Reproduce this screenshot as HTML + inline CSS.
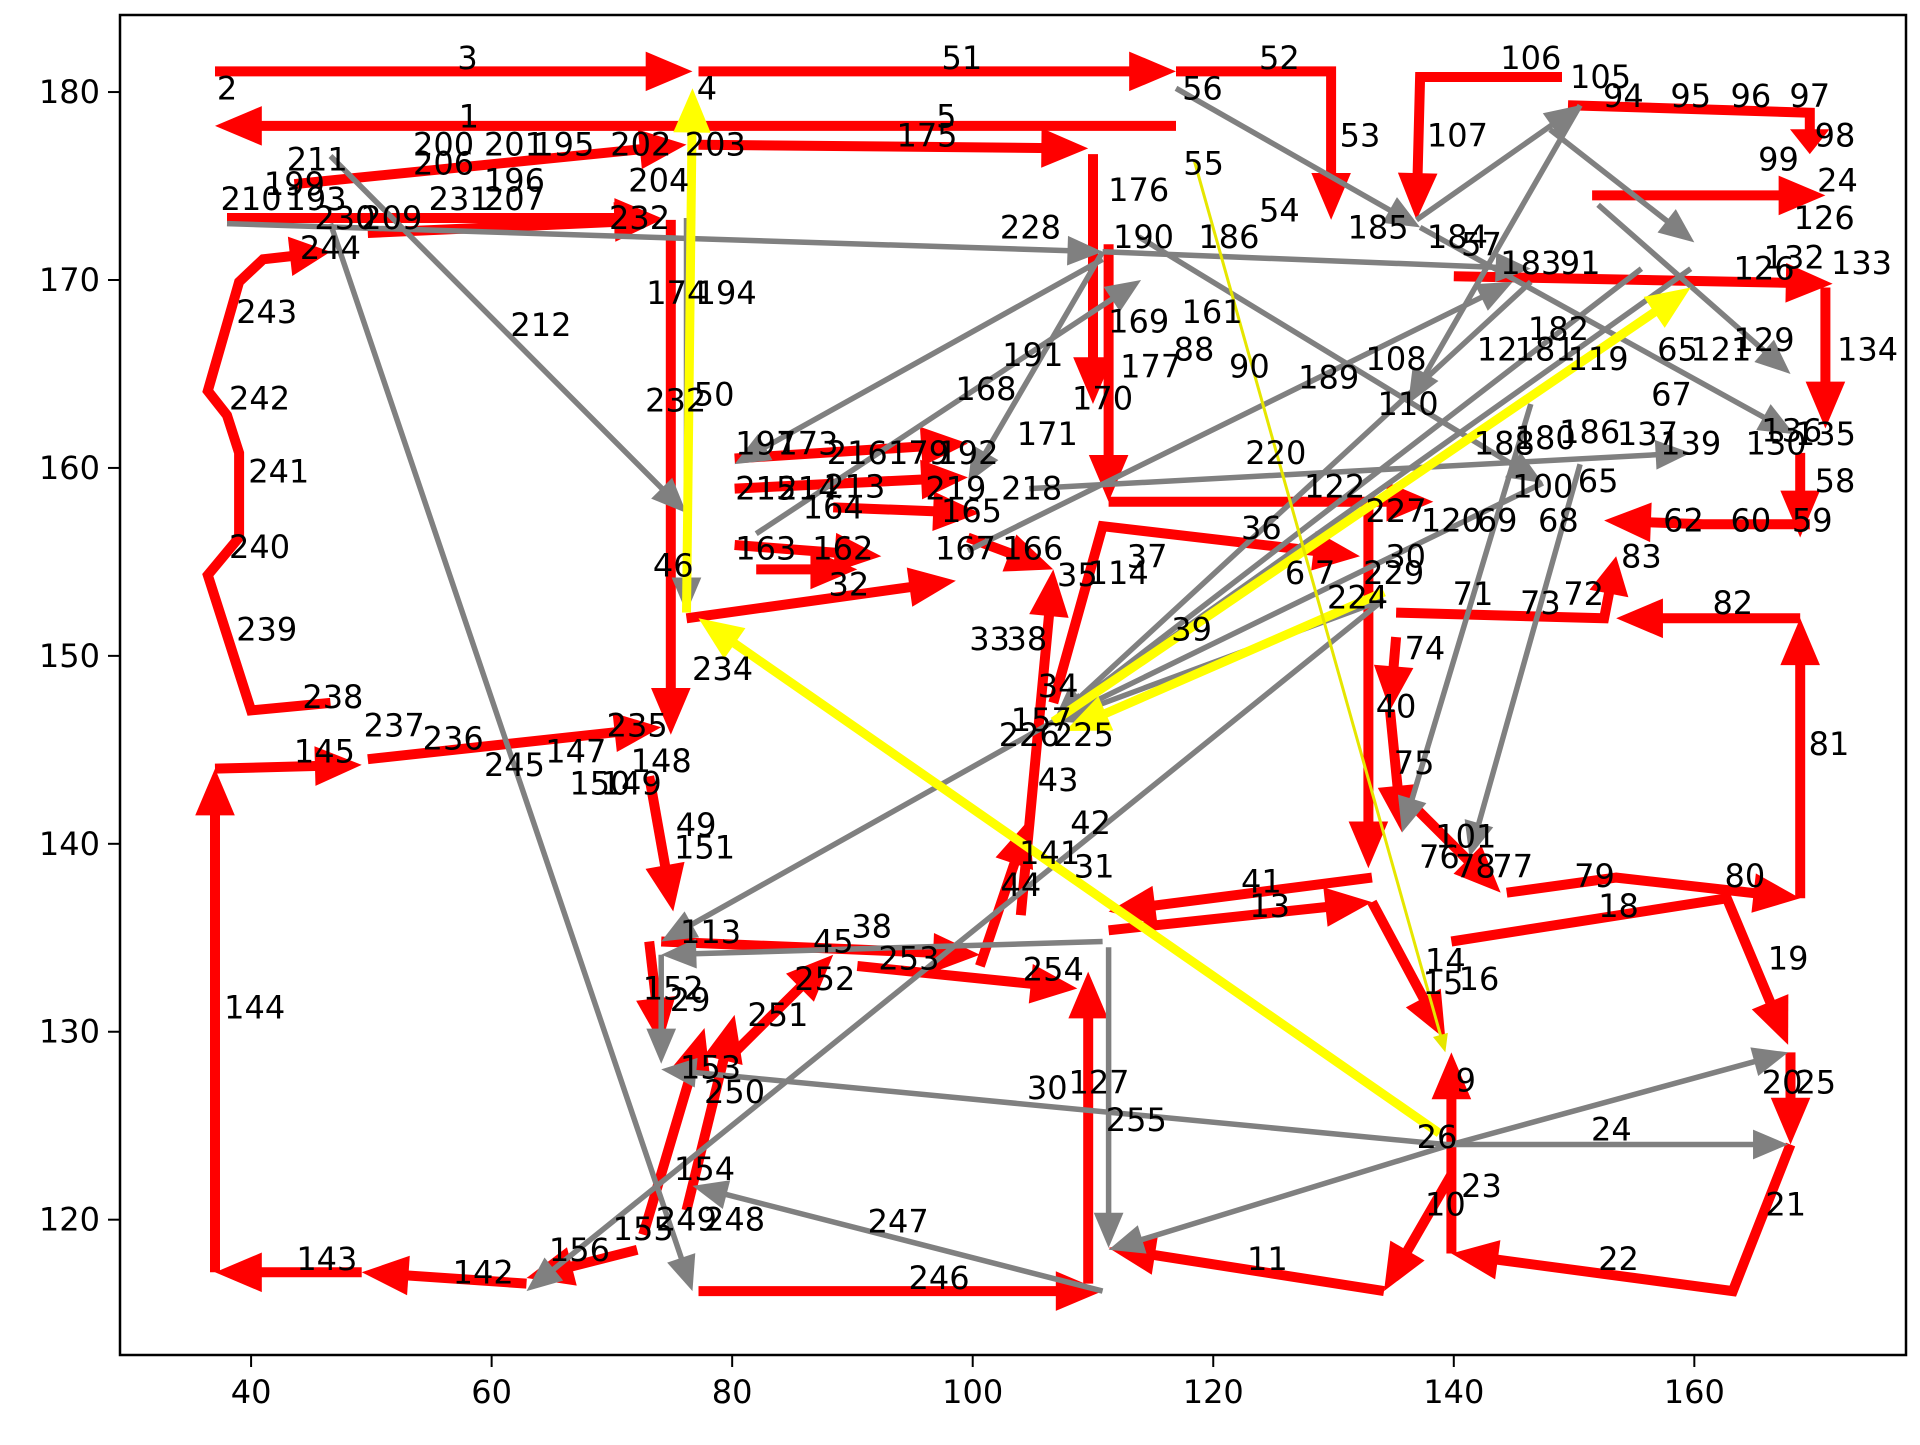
<!DOCTYPE html>
<html><head><meta charset="utf-8"><style>
html,body{margin:0;padding:0;background:#fff}
svg text{font-family:"DejaVu Sans","Liberation Sans",sans-serif}
</style></head><body>
<svg id="chart" width="1920" height="1440" viewBox="0 0 1920 1440" xmlns="http://www.w3.org/2000/svg">
<rect x="0" y="0" width="1920" height="1440" fill="#fff"/>
<g id="plot"></g>
</svg>
<script>
const xTicks=[40,60,80,100,120,140,160];
const yTicks=[120,130,140,150,160,170,180];
const redPaths=[
[[37.0,181.1],[76.7,181.1]],[[77.2,181.1],[116.9,181.1]],[[116.9,181.1],[129.8,181.1],[129.8,173.2]],
[[116.9,178.2],[37.0,178.2]],[[77.2,177.2],[109.6,177.0]],[[110.0,176.7],[110.0,163.4]],[[111.3,171.9],[111.3,158.2]],
[[149.0,180.8],[137.2,180.8],[136.9,173.2]],[[149.5,179.3],[169.6,178.9],[169.6,176.7]],
[[151.5,174.5],[170.9,174.5]],[[140,170.2],[171.5,169.8]],[[170.9,169.6],[170.9,162.1]],[[168.8,160.8],[168.8,156.3]],
[[169.6,157.0],[160.7,157.0],[152.5,157.2]],[[168.8,137.1],[168.8,152.0]],[[168.8,152.0],[153.5,152.0]],
[[144.4,137.4],[153.5,138.2],[168.8,137.1]],[[139.8,134.8],[162.7,137.1],[167.8,129.3]],[[168.0,128.9],[168.0,124.0]],
[[168.0,124.0],[163.2,116.2],[139.8,118.2]],[[139.8,118.2],[139.8,128.9]],[[139.8,122.4],[134.2,116.2]],
[[134.2,116.2],[111.3,118.5]],[[109.6,116.6],[109.6,133.2]],[[77.2,116.2],[110.8,116.2]],
[[132.9,158.2],[132.9,138.7]],[[133.2,138.2],[111.3,136.4]],[[111.3,135.4],[133.2,136.9]],[[133.2,136.9],[139.3,129.6]],
[[135.2,152.3],[152.5,152.0],[153.5,155.3]],[[135.2,151.0],[134.7,147.1]],[[134.7,147.1],[135.7,140.6]],[[136.2,142.3],[143.9,137.4]],
[[37.0,117.2],[37.0,144.0]],[[37.0,144.0],[49.2,144.2]],[[49.2,117.2],[37.0,117.2]],[[62.9,116.6],[49.2,117.2]],[[72.1,118.4],[62.9,116.9]],
[[49.7,144.5],[74.1,146.2]],
[[46.6,147.5],[40.0,147.1],[36.4,154.3],[39.0,156.3],[39.0,160.8],[38.0,162.8],[36.4,164.1],[39.0,169.9],[41.0,171.1],[46.6,171.5]],
[[38.0,173.3],[74.1,173.3]],[[43.6,175.1],[76.2,177.2]],[[49.7,172.5],[74.1,173.2]],
[[74.9,173.2],[74.9,145.8]],[[76.2,152.0],[98.6,154.0]],[[73.1,143.6],[75.1,136.4]],
[[74.1,134.8],[100.6,134.1]],[[90.4,133.5],[108.7,132.3]],[[100.6,133.5],[104.7,141.3]],[[104.0,136.2],[106.7,154.6]],
[[111.3,158.2],[138.3,158.2]],[[106.7,147.5],[110.8,156.9],[132.2,155.3]],
[[80.2,160.5],[99.6,161.3]],[[80.2,158.9],[99.6,159.5]],[[80.2,155.9],[92.4,155.3]],[[82,154.6],[90.4,154.6]],
[[88.4,157.9],[100.6,157.6]],[[99.6,156.3],[106.7,154.6]],
[[72.6,119.2],[77.7,130.2]],[[76.2,120.5],[80.2,130.9]],[[80.2,128.9],[88.4,134.1]],[[73.1,134.8],[74.1,129.3]]
];
const grayPaths=[
[[46.6,173.0],[76.7,116.2]],[[46.6,176.6],[76.2,157.6]],[[38.0,173.0],[110.8,171.5]],[[116.9,180.2],[137.2,172.8]],
[[146.4,169.9],[106.7,146.5]],[[147.4,159.2],[106.7,146.5]],[[134.2,153.0],[106.7,146.5]],[[159.7,170.6],[106.7,146.5]],[[155.6,170.6],[106.7,146.5]],
[[106.7,146.5],[74.1,134.8]],[[134.2,153.0],[62.9,116.2]],[[139.3,124.0],[167.8,124.0]],[[139.8,124.0],[111.3,118.4]],
[[139.8,124.0],[167.8,128.9]],[[139.3,124.0],[74.1,128.0]],[[110.8,116.2],[76.7,121.8]],[[110.8,134.8],[74.1,134.1]],
[[74.1,134.1],[74.1,128.3]],[[111.3,134.5],[111.3,118.5]],[[146.4,163.4],[135.7,140.6]],[[150.5,160.2],[141.3,139.3]],
[[110.8,171.5],[99.6,159.2]],[[110.8,171.1],[80.2,160.2]],[[104.7,158.9],[159.7,160.8]],[[76.2,173.3],[76.2,152.3]],
[[136.9,173.2],[150.5,179.3]],[[150.5,179.3],[136.2,163.4]],[[113.8,172.3],[147.4,159.2]],[[137.2,172.8],[168.3,161.8]],
[[99.6,155.6],[144.9,169.9]],[[82,156.5],[114,170]],[[110.8,171.5],[146.4,170.6]],[[148,178],[160,172]],[[152,174],[168,165]]
];
const yellowPaths=[[[76.2,152.3],[76.7,180.2]],[[138.8,124.6],[77.2,152.0]],[[106.7,146.5],[159.7,169.6]],[[134.2,153.4],[107.7,146.0]]];
const yellowThin=[[[118.4,176.4],[139.3,128.9]]];
const labels=[
["2",38.0,180.2],["3",58.0,181.8],["4",77.9,180.2],["1",58.1,178.7],["5",97.8,178.7],["51",99.1,181.8],["56",119.1,180.2],
["52",125.5,181.8],["53",132.2,177.7],["55",119.2,176.2],["175",96.2,177.7],["176",113.8,174.8],["54",125.5,173.7],
["186",121.3,172.3],["190",114.2,172.3],["228",104.8,172.8],["185",133.7,172.8],["184",140.3,172.3],["57",142.3,171.9],
["183",146.4,170.9],["91",150.5,170.9],["107",140.3,177.7],["106",146.4,181.8],["105",152.2,180.8],["94",154.1,179.8],
["95",159.7,179.8],["96",164.7,179.8],["97",169.6,179.8],["98",171.7,177.7],["99",167.0,176.4],["24",171.9,175.3],
["126",170.8,173.3],["133",173.9,170.9],["132",168.3,171.2],["126",165.8,170.6],["134",174.4,166.3],["135",170.9,161.8],
["136",168.1,162.0],["130",166.8,161.3],["58",171.7,159.3],["59",169.8,157.2],["60",164.7,157.2],["62",159.1,157.2],
["83",155.6,155.3],["82",163.2,152.8],["81",171.2,145.3],["80",164.2,138.3],["79",151.7,138.3],["18",153.7,136.7],
["19",167.8,133.9],["20",167.3,127.3],["25",170.1,127.3],["21",167.6,120.8],["22",153.7,117.9],["23",142.3,121.8],
["24",153.1,124.8],["26",138.6,124.4],["9",141.0,127.4],["10",139.3,120.8],["11",124.5,117.9],["14",139.3,133.8],
["15",139.1,132.6],["16",142.1,132.8],["101",141.0,140.4],["76",138.8,139.3],["78",141.8,138.8],["77",144.9,138.8],
["75",136.7,144.3],["40",135.2,147.3],["74",137.6,150.4],["71",141.6,153.3],["73",147.2,152.8],["72",150.8,153.3],
["224",132.0,153.1],["229",135.0,154.4],["30",136.0,155.3],["6",126.8,154.4],["7",129.3,154.4],["36",124.0,156.8],
["39",118.2,151.4],["220",125.2,160.8],["122",130.1,159.0],["227",135.2,157.7],["120",139.8,157.2],["69",143.6,157.2],
["68",148.7,157.2],["100",147.4,159.0],["65",152.0,159.3],["188",144.2,161.3],["180",147.6,161.6],["186",151.3,161.9],
["137",156.1,161.8],["139",159.7,161.3],["65",158.6,166.3],["121",162.2,166.3],["129",165.8,166.8],["67",158.1,163.9],
["181",147.6,166.3],["182",148.7,167.4],["12",143.6,166.3],["119",152.0,165.8],["110",136.2,163.4],["108",135.2,165.8],
["189",129.6,164.8],["90",123.0,165.4],["88",118.4,166.3],["161",119.9,168.3],["169",113.8,167.8],["177",114.8,165.4],
["170",110.8,163.7],["171",106.2,161.8],["191",105.0,166.0],["168",101.1,164.2],["218",104.9,158.9],["219",98.6,158.9],
["165",99.9,157.7],["167",99.4,155.7],["166",105.0,155.7],["164",88.4,157.9],["162",89.2,155.7],["163",82.8,155.7],
["32",89.7,153.8],["213",90.2,159.0],["215",82.8,158.9],["214",86.3,158.9],["197",82.8,161.3],["173",86.3,161.3],
["216",90.4,160.8],["179",95.5,160.8],["192",99.6,160.8],["232",75.3,163.6],["50",78.5,163.9],["174",75.4,169.3],["194",79.5,169.3],
["46",75.1,154.8],["234",79.2,149.3],["203",78.6,177.2],["202",72.4,177.2],["204",73.9,175.3],["232",72.3,173.3],
["212",64.1,167.6],["211",45.5,176.4],["199",43.6,175.1],["210",40.0,174.3],["193",45.4,174.3],["230",47.8,173.3],
["209",51.7,173.3],["231",57.3,174.3],["207",61.9,174.3],["200",56.0,177.2],["201",61.9,177.2],["206",56.0,176.2],
["196",61.9,175.3],["195",66.0,177.2],["244",46.6,171.7],["243",41.3,168.3],["242",40.7,163.7],["241",42.3,159.8],
["240",40.7,155.8],["239",41.3,151.4],["238",46.8,147.8],["237",51.9,146.3],["145",46.1,144.9],["236",56.8,145.6],
["245",61.9,144.2],["147",67.0,144.9],["235",72.1,146.3],["148",74.1,144.4],["150",69.0,143.2],["149",71.6,143.2],
["49",77.0,141.0],["151",77.7,139.8],["113",78.2,135.3],["152",75.1,132.3],["29",76.5,131.7],["153",78.2,128.1],
["250",80.2,126.8],["154",77.7,122.7],["249",76.2,120.0],["248",80.2,120.0],["155",72.6,119.5],["156",67.3,118.4],
["142",59.3,117.2],["143",46.3,117.9],["144",40.3,131.3],["246",97.2,116.9],["247",93.8,119.9],["251",83.8,130.9],
["252",87.7,132.8],["253",94.7,133.9],["45",88.4,134.8],["38",91.6,135.6],["254",106.7,133.3],["30",106.2,127.0],
["127",110.5,127.3],["255",113.6,125.3],["41",124.0,138.0],["13",124.7,136.7],["141",106.4,139.5],["31",110.1,138.8],
["44",104.0,137.8],["42",109.8,141.1],["43",107.1,143.4],["226",104.7,145.8],["225",109.2,145.8],["157",105.7,146.6],
["34",107.1,148.4],["33",101.4,150.9],["38",104.5,150.9],["35",108.7,154.3],["37",114.5,155.3],["114",112.1,154.4]
];
const X0=120,X1=1906,Y0=15,Y1=1355;
const xMin=29.1,xMax=177.6,yMin=112.8,yMax=184.1;
function sx(v){return X0+(v-xMin)/(xMax-xMin)*(X1-X0);}
function sy(v){return Y1-(v-yMin)/(yMax-yMin)*(Y1-Y0);}
const NS="http://www.w3.org/2000/svg";
const plot=document.getElementById('plot');
function mk(tag,attrs,parent){const e=document.createElementNS(NS,tag);for(const k in attrs)e.setAttribute(k,attrs[k]);(parent||plot).appendChild(e);return e;}
function drawPath(pts,color,w,head,name){
  const g=mk('g',{});
  
  
  const p=pts.map(q=>[sx(q[0]),sy(q[1])]);
  const n=p.length;const a=p[n-2],b=p[n-1];
  const dx=b[0]-a[0],dy=b[1]-a[1];const L=Math.hypot(dx,dy)||1;const ux=dx/L,uy=dy/L;
  const hl=Math.min(head*1.3,L*0.6);
  const end=[b[0]-ux*hl*0.8,b[1]-uy*hl*0.8];
  const d=p.slice(0,n-1).map((q,i)=>(i?'L':'M')+q[0].toFixed(1)+' '+q[1].toFixed(1)).join(' ')+' L'+end[0].toFixed(1)+' '+end[1].toFixed(1);
  const ln=mk('path',{d:d,stroke:color,'stroke-width':w,fill:'none','stroke-linejoin':'miter'},g);
  
  
  const bx=b[0]-ux*hl,by=b[1]-uy*hl,hw=head*0.55;
  const tri=mk('polygon',{points:`${b[0]},${b[1]} ${bx-uy*hw},${by+ux*hw} ${bx+uy*hw},${by-ux*hw}`,fill:color},g);
  
  
}
const fr=mk('rect',{x:X0,y:Y0,width:X1-X0,height:Y1-Y0,fill:'none',stroke:'#000','stroke-width':2.5});


redPaths.forEach(p=>drawPath(p,'#ff0000',10,36,'red-edge'));
grayPaths.forEach(p=>drawPath(p,'#808080',5.5,27,'gray-edge'));
yellowPaths.forEach(p=>drawPath(p,'#ffff00',9,34,'yellow-edge'));
yellowThin.forEach(p=>drawPath(p,'#e6e600',3,14,'yellow-thin-edge'));
labels.forEach(l=>{
  const t=mk('text',{x:sx(l[1]),y:sy(l[2]),'font-size':32,'text-anchor':'middle','dominant-baseline':'central',fill:'#000'});
  t.textContent=l[0];
  
  
});
xTicks.forEach(v=>{
  const x=sx(v);
  const tk=mk('line',{x1:x,y1:Y1,x2:x,y2:Y1+12,stroke:'#000','stroke-width':2});
  
  
  const t=mk('text',{x:x,y:Y1+48,'font-size':32,'text-anchor':'middle',fill:'#000'});
  t.textContent=v;
  
  
});
yTicks.forEach(v=>{
  const y=sy(v);
  const tk=mk('line',{x1:X0-12,y1:y,x2:X0,y2:y,stroke:'#000','stroke-width':2});
  
  
  const t=mk('text',{x:X0-20,y:y+11,'font-size':32,'text-anchor':'end',fill:'#000'});
  t.textContent=v;
  
  
});
</script>
</body></html>
